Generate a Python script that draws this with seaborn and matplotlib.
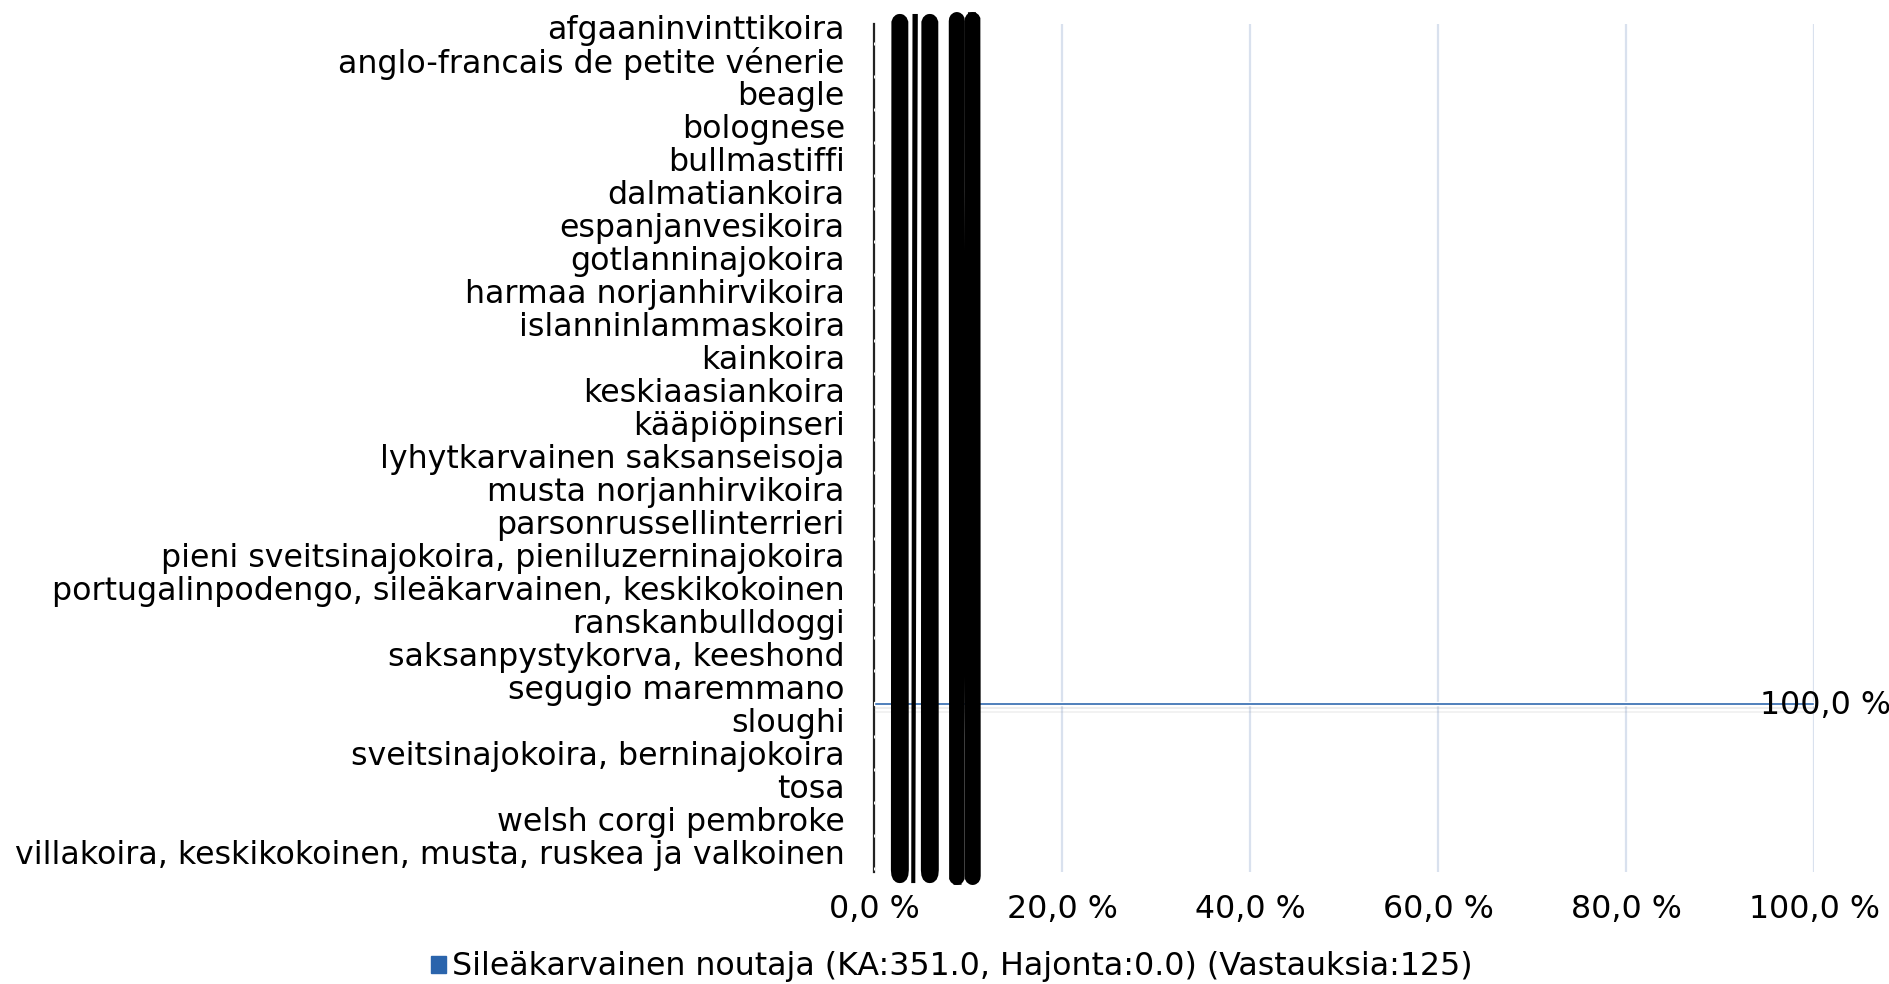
import numpy as np
import pandas as pd
import seaborn as sns
import matplotlib.pyplot as plt
from matplotlib.patches import Patch, Polygon
from matplotlib.textpath import TextPath
from matplotlib.font_manager import FontProperties
import matplotlib.patheffects as pe

# kategoriat (rodut) ja arvot (%)
breeds = [
    "afgaaninvinttikoira",
    "anglo-francais de petite vénerie",
    "beagle",
    "bolognese",
    "bullmastiffi",
    "dalmatiankoira",
    "espanjanvesikoira",
    "gotlanninajokoira",
    "harmaa norjanhirvikoira",
    "islanninlammaskoira",
    "kainkoira",
    "keskiaasiankoira",
    "kääpiöpinseri",
    "lyhytkarvainen saksanseisoja",
    "musta norjanhirvikoira",
    "parsonrussellinterrieri",
    "pieni sveitsinajokoira, pieniluzerninajokoira",
    "portugalinpodengo, sileäkarvainen, keskikokoinen",
    "ranskanbulldoggi",
    "saksanpystykorva, keeshond",
    "segugio maremmano",
    "sloughi",
    "sveitsinajokoira, berninajokoira",
    "tosa",
    "welsh corgi pembroke",
    "villakoira, keskikokoinen, musta, ruskea ja valkoinen",
]
values = [0.0] * 20 + [100.0] + [0.0] * 5
series_name = "Sileäkarvainen noutaja (KA:351.0, Hajonta:0.0) (Vastauksia:125)"
x_ticks = [0, 20, 40, 60, 80, 100]

blue = "#2A64AC"
grid_col = "#D9E1EE"

df = pd.DataFrame({"rotu": breeds, "osuus": values})

sns.set_style("white")
plt.rcParams["font.family"] = ["DejaVu Sans"]
plt.rcParams["text.color"] = "black"
plt.rcParams["xtick.color"] = "black"
plt.rcParams["ytick.color"] = "black"
fs = 22.8

fig = plt.figure(figsize=(18.9, 9.84), dpi=100)
ax = fig.add_axes([0.4624, 0.1138, 0.4974, 0.8618])

sns.barplot(data=df, x="osuus", y="rotu", orient="h", color=blue,
            width=0.08, saturation=1, ax=ax, zorder=3)
for p in ax.patches:
    p.set_path_effects([
        pe.SimplePatchShadow(offset=(0, -6), shadow_rgbFace="#888888", alpha=0.10),
        pe.SimplePatchShadow(offset=(0, -3), shadow_rgbFace="#888888", alpha=0.15),
        pe.Normal(),
    ])

pos = np.arange(len(breeds))
ax.set_yticks(pos - 0.5, breeds)
ax.set_ylim(25.1, -0.59)
ax.set_xlim(0, 100)
ax.set_xticks(x_ticks, [f"{t:.1f} %".replace(".", ",") for t in x_ticks])
ax.set_xlabel("")
ax.set_ylabel("")

for t in x_ticks[1:]:
    ax.axvline(t, color=grid_col, lw=1.6, zorder=0)

for s in ["top", "right", "bottom"]:
    ax.spines[s].set_visible(False)
ax.spines["left"].set_color("#222222")
ax.spines["left"].set_linewidth(1.6)
ax.tick_params(axis="y", length=0, pad=21, labelsize=fs)
ax.tick_params(axis="x", length=0, pad=16, labelsize=fs)

# arvojen tunnisteet
for i, v in enumerate(values):
    if v > 0:
        ax.annotate(f"{v:.1f} %".replace(".", ","), (v, i), xytext=(8, -1),
                    textcoords="offset points", ha="center", va="center",
                    fontsize=fs, color="black", zorder=5, annotation_clip=False)

# nollien tunnisteet piirtyvät venyneinä koko korkeudelle
# (pikseleinä akselin sisällä: leveys 940, korkeus 848)
zero_txt = "0,0 %"
prop = FontProperties(family="DejaVu Sans")
ax_w, ax_h = 940.0, 848.0
lab_x0, lab_w = 18.0, 86.0
lab_y0, lab_y1 = -10.0, 857.0
ref_x1 = TextPath((0, 0), "0", size=1, prop=prop).get_extents().x1
whole = TextPath((0, 0), zero_txt, size=1, prop=prop).get_extents()
px = lab_w / whole.width
for k, ch in enumerate(zero_txt):
    if ch == " ":
        continue
    off = TextPath((0, 0), zero_txt[:k] + "0", size=1, prop=prop).get_extents().x1 - ref_x1
    gp = TextPath((0, 0), ch, size=1, prop=prop)
    for poly in gp.to_polygons():
        ymin, ymax = poly[:, 1].min(), poly[:, 1].max()
        mid = (ymin + ymax) / 2
        X = (poly[:, 0] + off - whole.x0) * px + lab_x0
        Y = np.where(poly[:, 1] <= mid,
                     lab_y0 + (poly[:, 1] - ymin) * px,
                     lab_y1 - (ymax - poly[:, 1]) * px)
        ax.add_patch(Polygon(np.column_stack([X / ax_w, Y / ax_h]), closed=True,
                             transform=ax.transAxes, facecolor="black",
                             edgecolor="black", lw=4 if ch == "%" else 1.5,
                             clip_on=False, zorder=4))

fig.legend(handles=[Patch(color=blue)], labels=[series_name], loc="center",
           bbox_to_anchor=(0.5037, 0.0173), frameon=False, fontsize=fs,
           handlelength=0.45, handleheight=0.45, handletextpad=0.2)

fig.savefig("out.png", dpi=100)
